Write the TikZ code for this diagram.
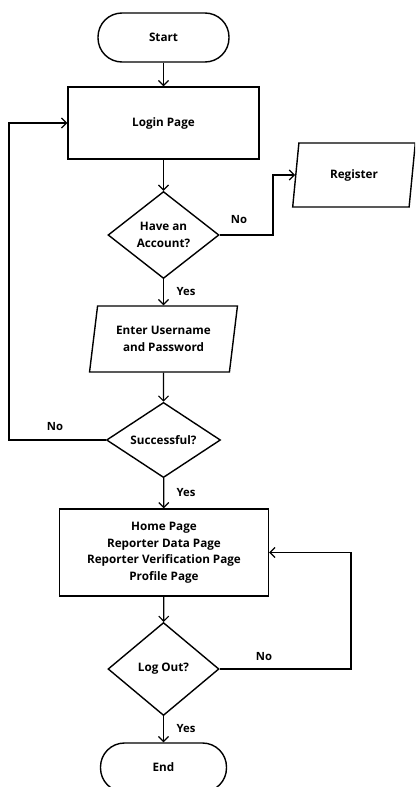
\documentclass[tikz,border=0pt]{standalone}
\usepackage{fontspec}
\setmainfont{Open Sans}
\usetikzlibrary{shapes.geometric,arrows.meta}
\tikzset{
  base/.style={draw, line width=1.4pt, inner sep=0pt, align=center, font=\fontsize{11.7}{16.5}\selectfont\bfseries},
  term/.style={base, rectangle, rounded corners=24pt, minimum width=#1, minimum height=49pt},
  proc/.style={base, rectangle},
  dec/.style={base, diamond},
  io/.style={base, trapezium, trapezium left angle=77, trapezium right angle=103, trapezium stretches=true},
  conn/.style={line width=1.2pt, -{Straight Barb[length=5pt,width=10pt,line width=1.2pt]}},
  lab/.style={font=\fontsize{11.3}{12}\selectfont\bfseries}
}
\begin{document}
\begin{tikzpicture}[x=1pt,y=-1pt]
\useasboundingbox (0,0) rectangle (415,787);
\begin{scope}
\clip (0,0) rectangle (415,787);
\node[term=131pt] (start) at (163.5,37.5) {Start};
\node[proc, minimum width=191pt, minimum height=72pt] (login) at (163.5,123) {Login Page};
\node[dec, minimum width=111pt, minimum height=87pt] (d1) at (163.5,235) {Have an\\Account?};
\node[io, minimum width=123pt, minimum height=64pt] (reg) at (354,175) {Register};
\node[io, minimum width=148pt, minimum height=66pt] (enter) at (163.5,339) {Enter Username\\and Password};
\node[dec, minimum width=114pt, minimum height=75pt] (d2) at (163.5,440) {Successful?};
\node[proc, minimum width=209pt, minimum height=87pt] (home) at (164,552.5) {Home Page\\Reporter Data Page\\Reporter Verification Page\\Profile Page};
\node[dec, minimum width=111pt, minimum height=93pt] (d3) at (163.5,669) {Log Out?};
\node[term=126pt] (end) at (163.5,767.5) {End};

\coordinate (c1) at (273,235);
\coordinate (c2) at (9,440);
\coordinate (c3) at (351,669);

\draw[conn] (start) -- (login);
\draw[conn] (login) -- (d1);
\draw[conn] (d1.east) -- (c1) |- (reg.west);
\draw[conn] (d1) -- (enter);
\draw[conn] (enter) -- (d2);
\draw[conn] (d2.west) -- (c2) |- (login.west);
\draw[conn] (d2) -- (home);
\draw[conn] (home) -- (d3);
\draw[conn] (d3.east) -- (c3) |- (home.east);
\draw[conn] (d3) -- (end);

\node[lab] (n1) at (239,220) {No};
\node[lab] (y1) at (186,292) {Yes};
\node[lab] (n2) at (55,427) {No};
\node[lab] (y2) at (186,493) {Yes};
\node[lab] (n3) at (264,657) {No};
\node[lab] (y3) at (186,729) {Yes};
\end{scope}
\end{tikzpicture}
\end{document}
